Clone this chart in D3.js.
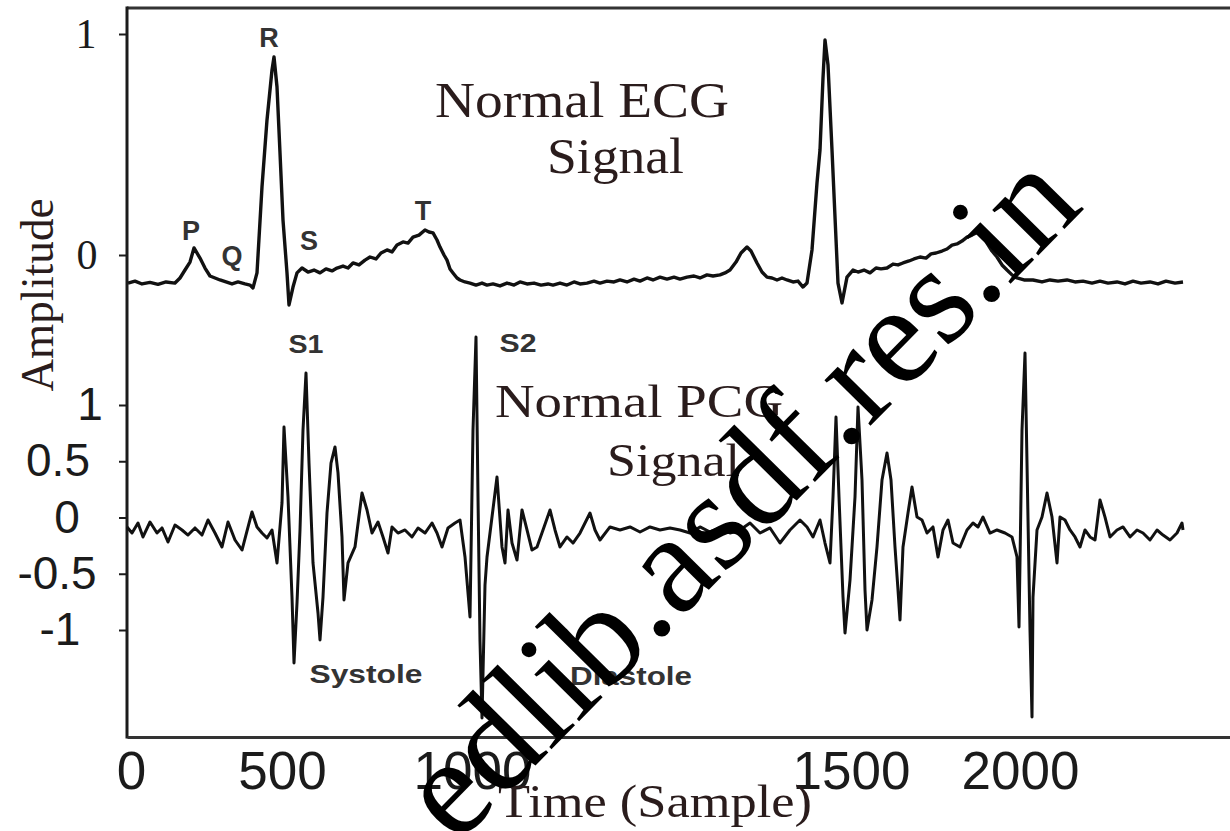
<!DOCTYPE html>
<html>
<head>
<meta charset="utf-8">
<script src="https://cdn.jsdelivr.net/npm/d3@7"></script>
<style>
  body { margin: 0; background: #fff; }
  svg { display: block; }
</style>
</head>
<body>
<svg id="chart" width="1230" height="831"></svg>
<script>
// x tick labels of the original figure (they are not evenly spaced there)
const xTickLabels = ['0', '500', '1000', '1500', '2000'];
const xTickAt = [8, 310, 690, 1448, 1786];

const ecgTicks = [0, 1];
const pcgTicks = [-1, -0.5, 0, 0.5, 1];
const pcgTickLabels = ['-1', '-0.5', '0', '0.5', '1'];

// ECG trace, [sample, amplitude]
const ecgSignal = [
  [2,-0.127],[16,-0.118],[30,-0.131],[46,-0.124],[62,-0.133],[78,-0.122],[96,-0.127],[106,-0.104],
  [116,-0.068],[126,-0.032],[134,0.032],[146,-0.014],[156,-0.059],[166,-0.095],[176,-0.104],[186,-0.113],
  [198,-0.122],[210,-0.131],[222,-0.122],[236,-0.131],[246,-0.136],[252,-0.149],[260,-0.081],[270,0.308],
  [280,0.611],[290,0.837],[294,0.896],[300,0.760],[306,0.462],[312,0.158],[320,-0.081],[324,-0.226],
  [332,-0.145],[340,-0.081],[350,-0.059],[362,-0.077],[374,-0.068],[386,-0.081],[398,-0.063],[410,-0.072],
  [420,-0.059],[432,-0.050],[442,-0.059],[452,-0.036],[464,-0.045],[476,-0.023],[486,-0.009],[498,-0.018],
  [508,0.009],[520,0.023],[530,0.014],[540,0.045],[552,0.059],[562,0.054],[572,0.081],[584,0.090],
  [596,0.113],[604,0.104],[612,0.100],[620,0.068],[626,0.036],[634,0.000],[640,-0.023],[646,-0.063],
  [652,-0.081],[660,-0.104],[666,-0.113],[676,-0.122],[686,-0.127],[698,-0.136],[710,-0.127],[720,-0.136],
  [732,-0.131],[746,-0.140],[760,-0.127],[774,-0.136],[786,-0.122],[800,-0.131],[814,-0.127],[828,-0.136],
  [842,-0.131],[852,-0.136],[866,-0.127],[880,-0.136],[894,-0.122],[906,-0.131],[920,-0.127],[934,-0.118],
  [946,-0.127],[960,-0.118],[974,-0.122],[986,-0.113],[1000,-0.122],[1014,-0.109],[1026,-0.118],[1040,-0.104],
  [1052,-0.113],[1066,-0.100],[1080,-0.109],[1094,-0.100],[1106,-0.109],[1120,-0.100],[1134,-0.095],[1146,-0.104],
  [1160,-0.090],[1172,-0.095],[1186,-0.090],[1196,-0.081],[1206,-0.068],[1218,-0.032],[1228,0.009],[1240,0.036],
  [1248,0.018],[1260,-0.036],[1270,-0.077],[1280,-0.100],[1290,-0.104],[1300,-0.113],[1310,-0.104],[1320,-0.113],
  [1332,-0.122],[1342,-0.118],[1352,-0.145],[1360,-0.127],[1370,0.023],[1380,0.326],[1386,0.475],[1392,0.801],
  [1396,0.973],[1402,0.860],[1410,0.475],[1416,0.172],[1422,-0.127],[1430,-0.217],[1440,-0.100],[1452,-0.068],
  [1462,-0.077],[1474,-0.068],[1486,-0.081],[1498,-0.059],[1508,-0.063],[1520,-0.059],[1532,-0.041],[1542,-0.045],
  [1552,-0.036],[1564,-0.027],[1574,-0.018],[1586,-0.009],[1598,-0.014],[1608,0.005],[1618,0.009],[1630,0.018],
  [1640,0.027],[1650,0.045],[1660,0.050],[1670,0.063],[1680,0.081],[1690,0.090],[1702,0.104],[1712,0.090],
  [1720,0.054],[1730,0.018],[1740,-0.009],[1750,-0.045],[1760,-0.068],[1770,-0.090],[1780,-0.104],[1794,-0.113],
  [1812,-0.113],[1830,-0.122],[1846,-0.113],[1862,-0.118],[1880,-0.113],[1896,-0.122],[1912,-0.118],[1930,-0.127],
  [1946,-0.118],[1962,-0.127],[1980,-0.122],[1996,-0.131],[2012,-0.118],[2028,-0.127],[2046,-0.122],[2062,-0.131],
  [2078,-0.118],[2096,-0.127],[2112,-0.122]
];

// PCG trace, [sample, amplitude]
const pcgSignal = [
  [0,-0.084],[10,-0.138],[22,-0.049],[32,-0.173],[46,-0.040],[60,-0.138],[70,-0.093],[82,-0.218],
  [96,-0.067],[110,-0.111],[122,-0.156],[136,-0.093],[150,-0.156],[162,-0.022],[176,-0.138],[190,-0.262],
  [202,-0.040],[216,-0.200],[230,-0.289],[250,0.049],[260,-0.084],[270,-0.138],[280,-0.182],[290,-0.111],
  [300,-0.404],[310,0.129],[314,0.804],[322,0.182],[330,-0.707],[334,-1.293],[340,-0.760],[346,-0.111],
  [352,0.778],[358,1.284],[364,0.484],[372,-0.404],[382,-0.849],[386,-1.089],[392,-0.707],[400,0.040],
  [408,0.484],[416,0.627],[422,0.396],[430,-0.173],[434,-0.733],[442,-0.404],[456,-0.262],[470,0.218],
  [480,0.067],[490,-0.138],[502,-0.040],[512,-0.173],[522,-0.316],[530,-0.084],[542,-0.138],[556,-0.111],
  [570,-0.173],[582,-0.093],[596,-0.138],[610,-0.049],[620,-0.138],[630,-0.262],[642,-0.093],[656,-0.049],
  [666,-0.022],[676,-0.351],[686,-0.884],[692,0.778],[698,1.604],[702,0.182],[706,-1.100],[710,-1.782],
  [716,-0.600],[720,-0.351],[730,0.004],[740,0.360],[750,-0.262],[756,-0.404],[762,0.067],[770,-0.227],
  [780,-0.378],[790,0.067],[800,-0.111],[810,-0.289],[820,-0.262],[832,-0.111],[846,0.067],[856,-0.111],
  [866,-0.262],[880,-0.173],[892,-0.227],[906,-0.138],[916,-0.049],[926,0.040],[936,-0.111],[946,-0.200],
  [966,-0.084],[986,-0.111],[1006,-0.084],[1026,-0.129],[1046,-0.084],[1066,-0.111],[1086,-0.093],[1106,-0.111],
  [1126,-0.138],[1146,-0.084],[1166,-0.129],[1186,-0.093],[1206,-0.138],[1226,-0.111],[1246,-0.049],[1266,-0.138],
  [1286,-0.093],[1306,-0.227],[1326,-0.111],[1346,-0.022],[1360,-0.084],[1372,-0.173],[1386,-0.022],[1396,-0.227],
  [1406,-0.404],[1412,0.182],[1418,0.893],[1424,0.182],[1432,-0.707],[1436,-1.027],[1446,-0.556],[1456,0.182],
  [1462,0.982],[1470,0.333],[1476,-0.644],[1480,-1.000],[1490,-0.733],[1500,-0.262],[1510,0.333],[1520,0.573],
  [1528,0.333],[1536,-0.262],[1542,-0.644],[1546,-0.911],[1552,-0.262],[1562,0.040],[1570,0.271],[1580,0.004],
  [1590,-0.022],[1600,-0.138],[1612,-0.084],[1622,-0.351],[1632,-0.111],[1642,-0.022],[1652,-0.227],[1666,-0.262],
  [1680,-0.111],[1692,-0.049],[1702,-0.084],[1712,0.004],[1726,-0.138],[1740,-0.111],[1756,-0.138],[1770,-0.173],
  [1780,-0.351],[1784,-0.973],[1790,0.778],[1796,1.462],[1800,0.484],[1806,-1.000],[1810,-1.773],[1812,-0.707],
  [1820,-0.111],[1830,0.004],[1840,0.218],[1850,0.004],[1860,-0.404],[1866,0.004],[1876,-0.022],[1886,-0.111],
  [1896,-0.173],[1906,-0.262],[1916,-0.111],[1926,-0.173],[1936,-0.200],[1946,0.156],[1956,0.004],[1966,-0.173],
  [1980,-0.111],[1992,-0.084],[2006,-0.173],[2020,-0.111],[2032,-0.138],[2046,-0.200],[2060,-0.111],[2072,-0.156],
  [2086,-0.200],[2100,-0.138],[2110,-0.049],[2112,-0.111]
];

// wave labels, placed in data coordinates
const ecgWaveLabels = [
  { text: 'P', t: 128, v: 0.068 },
  { text: 'Q', t: 210, v: -0.045 },
  { text: 'R', t: 284, v: 0.941 },
  { text: 'S', t: 364, v: 0.023 },
  { text: 'T', t: 592, v: 0.158 }
];
const pcgWaveLabels = [
  { text: 'S1', t: 358, v: 1.462 },
  { text: 'S2', t: 782, v: 1.471 },
  { text: 'Systole', t: 478, v: -1.471 },
  { text: 'Diastole', t: 1008, v: -1.489 }
];

const frame = { left: 127, right: 1230, top: 8, bottom: 737 };
const ink = '#1b1b1b';

const svg = d3.select('#chart');

const x = d3.scaleLinear().domain([0, 2206]).range([frame.left, frame.right]);
const yEcg = d3.scaleLinear().domain([0, 1]).range([255, 34]);
const yPcg = d3.scaleLinear().domain([-1, 1]).range([630, 405]);

// frame: top and left edges
svg.append('line')
  .attr('x1', frame.left).attr('x2', frame.right)
  .attr('y1', frame.top).attr('y2', frame.top)
  .attr('stroke', '#333').attr('stroke-width', 3);
svg.append('line')
  .attr('x1', frame.left).attr('x2', frame.left)
  .attr('y1', frame.top - 1.5).attr('y2', frame.bottom + 1.5)
  .attr('stroke', ink).attr('stroke-width', 3);

// Bottom axis
const gx = svg.append('g')
  .attr('transform', `translate(0,${frame.bottom})`)
  .call(d3.axisBottom(x).tickValues(xTickAt).tickFormat((d, i) => xTickLabels[i]).tickSize(0).tickSizeOuter(0));
gx.select('.domain').attr('stroke', '#333').attr('stroke-width', 3);
gx.selectAll('.tick text')
  .attr('y', 52).attr('dy', 0)
  .attr('fill', ink)
  .style('font-family', '"Liberation Sans", Arial, sans-serif')
  .style('font-size', '53px');

// ECG axis ticks
const ecgLabelX = [87, 86];
const gE = svg.append('g')
  .attr('transform', `translate(${frame.left},0)`)
  .call(d3.axisLeft(yEcg).tickValues(ecgTicks).tickFormat(d3.format('d')).tickSize(8));
gE.select('.domain').remove();
gE.selectAll('.tick line').attr('stroke', ink).attr('stroke-width', 2);
gE.selectAll('.tick text')
  .attr('x', (d, i) => ecgLabelX[i] - frame.left)
  .attr('text-anchor', 'middle')
  .attr('fill', ink)
  .style('font-family', '"Liberation Serif", "Times New Roman", serif')
  .style('font-size', '42px');

// PCG axis ticks
const pcgLabelX = [60, 57, 67, 58, 90];
const gP = svg.append('g')
  .attr('transform', `translate(${frame.left},0)`)
  .call(d3.axisLeft(yPcg).tickValues(pcgTicks).tickFormat((d, i) => pcgTickLabels[i]).tickSize(8));
gP.select('.domain').remove();
gP.selectAll('.tick line').attr('stroke', ink).attr('stroke-width', 2);
gP.selectAll('.tick text')
  .attr('x', (d, i) => pcgLabelX[i] - frame.left)
  .attr('text-anchor', 'middle')
  .attr('fill', ink)
  .style('font-family', '"Liberation Sans", Arial, sans-serif')
  .style('font-size', '46px');

// signals
const ecgLine = d3.line().x(d => x(d[0])).y(d => yEcg(d[1]));
const pcgLine = d3.line().x(d => x(d[0])).y(d => yPcg(d[1]));

svg.append('path')
  .datum(ecgSignal)
  .attr('d', ecgLine)
  .attr('fill', 'none')
  .attr('stroke', '#111')
  .attr('stroke-width', 3.4)
  .attr('stroke-linejoin', 'round');

svg.append('path')
  .datum(pcgSignal)
  .attr('d', pcgLine)
  .attr('fill', 'none')
  .attr('stroke', '#111')
  .attr('stroke-width', 3)
  .attr('stroke-linejoin', 'round');

// wave labels
svg.selectAll('.ecg-label')
  .data(ecgWaveLabels)
  .enter()
  .append('text')
  .attr('class', 'ecg-label')
  .attr('x', d => x(d.t))
  .attr('y', d => yEcg(d.v))
  .attr('text-anchor', 'middle')
  .attr('fill', '#333')
  .style('font-family', '"Liberation Sans", Arial, sans-serif')
  .style('font-weight', 'bold')
  .style('font-size', '27px')
  .text(d => d.text);

const pcgLabelWidth = { 'S1': 35, 'S2': 37, 'Systole': 113, 'Diastole': 122 };
svg.selectAll('.pcg-label')
  .data(pcgWaveLabels)
  .enter()
  .append('text')
  .attr('class', 'pcg-label')
  .attr('x', d => x(d.t))
  .attr('y', d => yPcg(d.v))
  .attr('text-anchor', 'middle')
  .attr('textLength', d => pcgLabelWidth[d.text])
  .attr('lengthAdjust', 'spacingAndGlyphs')
  .attr('fill', '#333')
  .style('font-family', '"Liberation Sans", Arial, sans-serif')
  .style('font-weight', 'bold')
  .style('font-size', '25px')
  .text(d => d.text);

// titles inside the plot
const serif = '"Liberation Serif", "Times New Roman", serif';
function serifText(str, px, py, size, len) {
  return svg.append('text')
    .attr('x', px).attr('y', py)
    .attr('textLength', len)
    .attr('lengthAdjust', 'spacingAndGlyphs')
    .attr('fill', '#2a1c1c')
    .style('font-family', serif)
    .style('font-size', size + 'px')
    .text(str);
}
serifText('Normal ECG', 435, 117, 50, 294);
serifText('Signal', 547, 173, 50, 137);
serifText('Normal PCG', 495, 417, 46, 288);
serifText('Signal', 607, 476, 46, 133);

// axis titles
serifText('Time (Sample)', 498, 817, 46, 314);
svg.append('text')
  .attr('transform', 'translate(53,295) rotate(-90)')
  .attr('text-anchor', 'middle')
  .attr('textLength', 193)
  .attr('lengthAdjust', 'spacingAndGlyphs')
  .attr('fill', '#2a1c1c')
  .style('font-family', serif)
  .style('font-size', '46px')
  .text('Amplitude');

// watermark across the figure
svg.append('text')
  .attr('transform', 'translate(456,846) rotate(-45.4)')
  .attr('fill', '#000')
  .style('font-family', serif)
  .style('font-size', '141px')
  .text('edlib.asdf.res.in');
</script>
</body>
</html>
